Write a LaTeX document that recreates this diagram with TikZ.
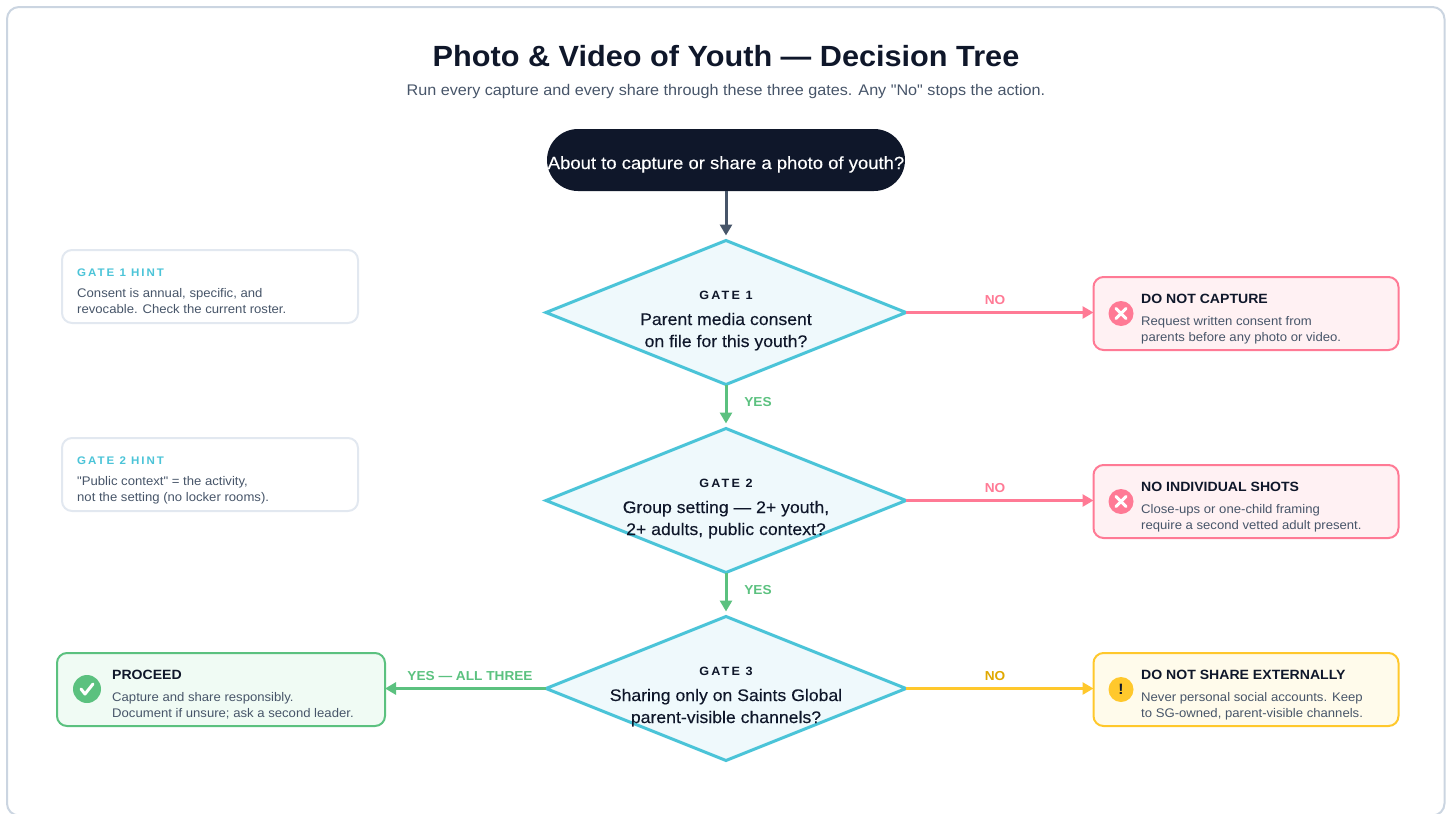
\documentclass[tikz,border=0pt]{standalone}
\usepackage{fontspec}
\usepackage{tikz}
\usetikzlibrary{shapes.geometric,arrows.meta}

\setmainfont[FakeStretch=1.05,Ligatures=TeXOff]{Liberation Sans}
\newfontfamily\mediumfont[FakeStretch=1.05,FakeBold=0.25]{Liberation Sans}
\newfontfamily\spacedfont[LetterSpace=18,FakeStretch=1.05]{Liberation Sans}

\definecolor{frameline}{HTML}{CBD5E1}
\definecolor{hintline}{HTML}{E2E8F0}
\definecolor{ink}{HTML}{0F172A}
\definecolor{slate}{HTML}{475569}
\definecolor{cyanline}{HTML}{4BC4D8}
\definecolor{cyanfill}{HTML}{EFF9FC}
\definecolor{redline}{HTML}{FF7A95}
\definecolor{redfill}{HTML}{FFF1F3}
\definecolor{greenline}{HTML}{5BC17F}
\definecolor{greenfill}{HTML}{F0FBF4}
\definecolor{amberline}{HTML}{FFC82C}
\definecolor{amberfill}{HTML}{FFFBEB}
\definecolor{ambertext}{HTML}{E0A800}

\newcommand{\size}[1]{\fontsize{#1}{16}\selectfont}

\begin{document}
\begin{tikzpicture}[x=1pt,y=-1pt,
    gate/.style={diamond,draw=cyanline,fill=cyanfill,line width=3pt,minimum width=360pt,minimum height=144pt,inner sep=0pt,outer sep=0pt},
    gatetag/.style={text=ink,inner sep=0pt,anchor=base,font=\spacedfont\bfseries\size{12}},
    gatetext/.style={text=ink,inner sep=0pt,anchor=base,align=center,font=\mediumfont\fontsize{16.8}{22}\selectfont},
    outcome/.style={draw=#1line,fill=#1fill,line width=2pt,rounded corners=10pt,minimum width=305pt,minimum height=73pt,inner sep=0pt,outer sep=0pt},
    hintbox/.style={draw=hintline,fill=white,line width=2pt,rounded corners=10pt,minimum width=296pt,minimum height=73pt,inner sep=0pt,outer sep=0pt},
    hinttag/.style={text=cyanline,inner sep=0pt,anchor=base west,font=\spacedfont\bfseries\size{11}},
    heading/.style={text=ink,inner sep=0pt,anchor=base west,font=\bfseries\size{13.4}},
    detail/.style={text=slate,inner sep=0pt,anchor=base west,align=left,font=\size{12.5}},
    icon/.style={circle,fill=#1line,minimum size=25pt,inner sep=0pt,outer sep=0pt},
    flow/.style={line width=3pt,-{Triangle[length=11pt,width=12pt]}},
    answer/.style={inner sep=0pt,anchor=base,font=\bfseries\size{13}}]

    \useasboundingbox (0,0) rectangle (1449,814);
    \draw[frameline,line width=2pt,rounded corners=12pt] (7,7) rectangle (1444.5,815.5);

    \node[text=ink,inner sep=0pt,anchor=base,font=\bfseries\size{29.2}] (title) at (726,66) {Photo \& Video of Youth — Decision Tree};
    \node[text=slate,inner sep=0pt,anchor=base,font=\size{15.4}] (subtitle) at (726,95) {Run every capture and every share through these three gates. Any "No" stops the action.};

    \node[fill=ink,rounded corners=31pt,minimum width=358pt,minimum height=62pt,inner sep=0pt,outer sep=0pt] (start) at (726,160) {};
    \node[text=white,inner sep=0pt,anchor=base,font=\mediumfont\size{17.6}] (starttext) at (726,169) {About to capture or share a photo of youth?};

    % the three gates
    \node[gate] (gate1) at (726,312.5) {};
    \node[gate] (gate2) at (726,500.5) {};
    \node[gate] (gate3) at (726,688.5) {};

    \node[gatetag] (tag1) at (726,299) {GATE 1};
    \node[gatetext] (text1) at (726,347) {Parent media consent\\on file for this youth?};
    \node[gatetag] (tag2) at (726,487) {GATE 2};
    \node[gatetext] (text2) at (726,535) {Group setting — 2+ youth,\\2+ adults, public context?};
    \node[gatetag] (tag3) at (726,675) {GATE 3};
    \node[gatetext] (text3) at (726,723) {Sharing only on Saints Global\\parent-visible channels?};

    % hints
    \node[hintbox] (hint1) at (210,286.5) {};
    \node[hinttag] (hinttag1) at (77,276) {GATE 1 HINT};
    \node[detail] (hinttext1) at (77,313.5) {Consent is annual, specific, and\\revocable. Check the current roster.};
    \node[hintbox] (hint2) at (210,474.5) {};
    \node[hinttag] (hinttag2) at (77,464) {GATE 2 HINT};
    \node[detail] (hinttext2) at (77,501.5) {"Public context" = the activity,\\not the setting (no locker rooms).};

    % outcomes
    \node[outcome=red] (nocapture) at (1246,313.5) {};
    \node[icon=red] (iconcapture) at (1121,313.5) {};
    \node[heading] (headcapture) at (1141,303) {DO NOT CAPTURE};
    \node[detail] (textcapture) at (1141,341) {Request written consent from\\parents before any photo or video.};

    \node[outcome=red] (noshots) at (1246,501.5) {};
    \node[icon=red] (iconshots) at (1121,501.5) {};
    \node[heading] (headshots) at (1141,491) {NO INDIVIDUAL SHOTS};
    \node[detail] (textshots) at (1141,529) {Close-ups or one-child framing\\require a second vetted adult present.};

    \node[outcome=amber] (noshare) at (1246,689.5) {};
    \node[icon=amber] (iconshare) at (1121,689.5) {};
    \node[text=ink,inner sep=0pt,font=\bfseries\size{15}] (bang) at (iconshare) {!};
    \node[heading] (headshare) at (1141,679) {DO NOT SHARE EXTERNALLY};
    \node[detail] (textshare) at (1141,717) {Never personal social accounts. Keep\\to SG-owned, parent-visible channels.};

    \node[outcome=green,minimum width=328pt] (proceed) at (221,689.5) {};
    \node[icon=green,minimum size=28pt] (iconproceed) at (87,689) {};
    \node[heading] (headproceed) at (112,679) {PROCEED};
    \node[detail] (textproceed) at (112,717) {Capture and share responsibly.\\Document if unsure; ask a second leader.};

    \draw[white,line width=3pt,line cap=round] ([shift={(-5,-5)}]iconcapture.center) -- ([shift={(5,5)}]iconcapture.center);
    \draw[white,line width=3pt,line cap=round] ([shift={(-5,5)}]iconcapture.center) -- ([shift={(5,-5)}]iconcapture.center);
    \draw[white,line width=3pt,line cap=round] ([shift={(-5,-5)}]iconshots.center) -- ([shift={(5,5)}]iconshots.center);
    \draw[white,line width=3pt,line cap=round] ([shift={(-5,5)}]iconshots.center) -- ([shift={(5,-5)}]iconshots.center);
    \draw[white,line width=3pt,line cap=round,line join=round] ([shift={(-6,0)}]iconproceed.center) -- ([shift={(-2,5)}]iconproceed.center) -- ([shift={(6,-5)}]iconproceed.center);

    % connectors
    \draw[flow,slate,shorten >=5pt] (start.south) -- (gate1.north);
    \draw[flow,greenline,shorten >=5pt] (gate1.south) -- (gate2.north);
    \draw[flow,greenline,shorten >=5pt] (gate2.south) -- (gate3.north);
    \draw[flow,redline] (gate1.east) -- (gate1.east -| nocapture.west);
    \draw[flow,redline] (gate2.east) -- (gate2.east -| noshots.west);
    \draw[flow,amberline] (gate3.east) -- (gate3.east -| noshare.west);
    \draw[flow,greenline] (gate3.west) -- (gate3.west -| proceed.east);

    \node[answer,text=redline] (no1) at (995,304) {NO};
    \node[answer,text=redline] (no2) at (995,492) {NO};
    \node[answer,text=ambertext] (no3) at (995,680) {NO};
    \node[answer,text=greenline] (yes1) at (758,406) {YES};
    \node[answer,text=greenline] (yes2) at (758,594) {YES};
    \node[answer,text=greenline] (yes3) at (470,680) {YES — ALL THREE};
\end{tikzpicture}
\end{document}
